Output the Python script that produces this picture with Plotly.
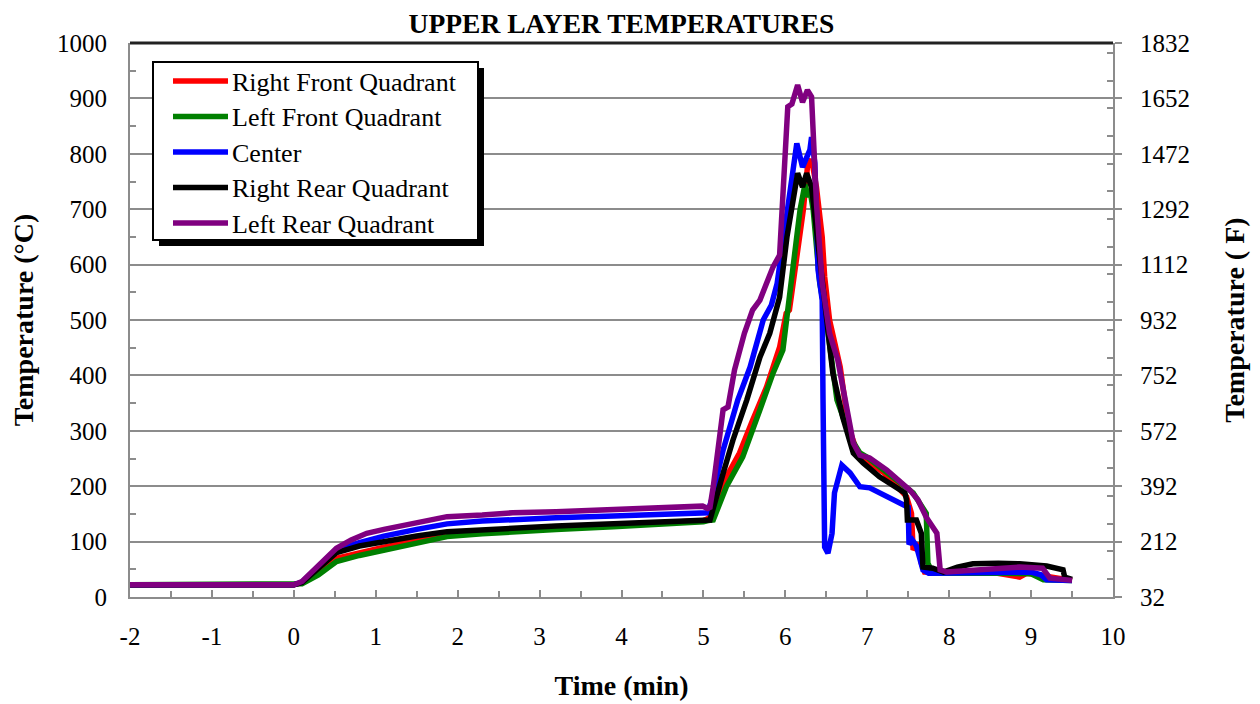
import plotly.graph_objects as go

# ---------------- data ----------------
rf_t = [-2, 0, 0.1, 0.3, 0.52, 0.8, 1.1, 1.5, 1.87, 2.3, 2.67, 3.2, 3.9, 4.5, 5.0, 5.05, 5.12, 5.28, 5.44,
        5.6, 5.77, 5.93, 6.01, 6.05, 6.12, 6.22, 6.27, 6.32, 6.38, 6.45, 6.48, 6.54, 6.67, 6.77, 6.87, 7.0,
        7.2, 7.48, 7.54, 7.56, 7.62, 7.66, 7.7, 8.0, 8.5, 8.86, 8.95, 9.2, 9.5]
rf_T = [22, 22, 26, 45, 70, 80, 90, 102, 112, 118, 122, 126, 129, 133, 138, 141, 151, 217, 260,
        319, 379, 451, 512, 518, 590, 699, 776, 790, 740, 650, 578, 500, 415, 307, 265, 245,
        225, 181, 151, 85, 97, 61, 45, 44, 45, 36, 43, 36, 30]

lf_t = [-2, 0, 0.1, 0.3, 0.52, 0.8, 1.1, 1.5, 1.87, 2.3, 2.67, 3.2, 3.9, 4.5, 5.0, 5.06, 5.12, 5.28, 5.48,
        5.69, 5.85, 5.97, 6.02, 6.1, 6.18, 6.24, 6.28, 6.3, 6.34, 6.42, 6.5, 6.63, 6.79, 6.91, 7.0, 7.15,
        7.35, 7.56, 7.72, 7.74, 7.8, 8.2, 8.6, 9.0, 9.15, 9.5]
lf_T = [22, 22, 24, 40, 64, 75, 85, 98, 109, 114, 118, 122, 127, 131, 136, 138, 139, 199, 253,
        338, 404, 446, 505, 614, 699, 745, 722, 735, 699, 567, 500, 356, 289, 260, 252, 235,
        212, 188, 151, 61, 43, 44, 43, 42, 31, 30]

c_t = [-2, 0, 0.1, 0.3, 0.52, 0.8, 1.1, 1.5, 1.87, 2.3, 2.67, 3.2, 3.9, 4.5, 5.0, 5.05, 5.1, 5.24, 5.42,
       5.57, 5.73, 5.83, 5.9, 6.02, 6.12, 6.14, 6.21, 6.3, 6.32, 6.36, 6.4, 6.45, 6.46, 6.48, 6.52, 6.57,
       6.6, 6.69, 6.79, 6.91, 7.03, 7.24, 7.43, 7.5, 7.51, 7.55, 7.6, 7.68, 7.75, 8.0, 8.5, 9.0, 9.12,
       9.19, 9.5]
c_T = [22, 22, 27, 55, 84, 98, 110, 122, 132, 137, 140, 143, 146, 148, 150, 152, 175, 265, 356,
       415, 500, 527, 566, 699, 812, 819, 776, 807, 830, 783, 590, 536, 356, 90, 79, 115,
       188, 238, 224, 199, 197, 181, 166, 162, 95, 103, 92, 49, 43, 44, 44, 45, 40,
       31, 30]

rr_t = [-2, 0, 0.1, 0.3, 0.52, 0.8, 1.1, 1.5, 1.87, 2.3, 2.67, 3.2, 3.9, 4.5, 5.0, 5.08, 5.24, 5.36, 5.53,
        5.69, 5.81, 5.93, 6.02, 6.1, 6.15, 6.21, 6.26, 6.32, 6.38, 6.45, 6.5, 6.58, 6.7, 6.83, 6.95, 7.15,
        7.46, 7.48, 7.49, 7.6, 7.66, 7.68, 7.8, 7.93, 8.1, 8.29, 8.6, 8.86, 9.19, 9.39, 9.41, 9.5]
rr_T = [22, 22, 26, 52, 80, 92, 100, 110, 118, 122, 125, 128, 132, 136, 140, 139, 223, 283, 356,
        433, 476, 541, 650, 722, 765, 740, 765, 740, 662, 560, 500, 404, 325, 260, 242, 217,
        188, 175, 139, 139, 115, 54, 52, 45, 54, 60, 61, 60, 56, 49, 36, 32]

lr_t = [-2, 0, 0.1, 0.3, 0.52, 0.7, 0.89, 1.1, 1.45, 1.87, 2.3, 2.67, 3.2, 3.9, 4.5, 4.99, 5.05, 5.08,
        5.12, 5.24, 5.3, 5.38, 5.5, 5.6, 5.69, 5.85, 5.93, 5.99, 6.03, 6.08, 6.12, 6.15, 6.21, 6.27,
        6.32, 6.38, 6.45, 6.5, 6.54, 6.64, 6.73, 6.83, 6.91, 7.03, 7.24, 7.52, 7.62, 7.72, 7.85, 7.89,
        7.97, 8.37, 8.86, 9.14, 9.23, 9.5]
lr_T = [22, 22, 28, 58, 88, 103, 115, 122, 133, 145, 148, 152, 154, 157, 160, 164, 160, 162,
        199, 338, 343, 410, 476, 518, 536, 596, 617, 771, 885, 890, 915, 924, 893, 915,
        903, 711, 567, 505, 476, 428, 356, 278, 256, 251, 229, 193, 175, 144, 115, 49,
        45, 48, 54, 52, 34, 30]

series_names = ["Right Front Quadrant", "Left Front Quadrant", "Center",
                "Right Rear Quadrant", "Left Rear Quadrant"]
series_colors = ["#FF0000", "#008000", "#0000FF", "#000000", "#800080"]
series_t = [rf_t, lf_t, c_t, rr_t, lr_t]
series_T = [rf_T, lf_T, c_T, rr_T, lr_T]

x_ticks = list(range(-2, 11))
c_ticks = list(range(0, 1001, 100))
f_ticks = [32 + 1.8 * v for v in c_ticks]

# ---------------- figure ----------------
FONT = "Liberation Serif, Times New Roman, serif"
GRID = "#8c8c8c"
OFF = 8                      # default body margin of the html page
WIN_W, WIN_H = 1260, 704
PL, PR, PT, PB = 130, 1113, 43, 597   # plot area in window pixels
W, H = WIN_W - OFF, WIN_H - OFF
L, T = PL - OFF, PT - OFF
R, B = W - (PR - OFF), H - (PB - OFF)
PW, PH = PR - PL, PB - PT

fig = go.Figure()
for name, col, tt, vv in zip(series_names, series_colors, series_t, series_T):
    fig.add_trace(go.Scatter(x=tt, y=vv, name=name, mode="lines",
                             line=dict(color=col, width=5.5), showlegend=False))
# invisible trace to activate the right (°F) axis
fig.add_trace(go.Scatter(x=[None], y=[None], yaxis="y2", showlegend=False, hoverinfo="skip"))

fig.update_layout(
    width=W, height=H,
    margin=dict(l=L, r=R, t=T, b=B, autoexpand=False),
    paper_bgcolor="white", plot_bgcolor="white",
    font=dict(family=FONT, size=25, color="black"),
    title=dict(text="<b>UPPER LAYER TEMPERATURES</b>", x=(PL - OFF + PW / 2) / W, xanchor="center",
               y=1 - (23 - OFF) / H, yanchor="middle", font=dict(size=27.5, family=FONT)),
    xaxis=dict(range=[-2, 10], tickvals=x_ticks, ticktext=[str(v) for v in x_ticks],
               ticks="inside", ticklen=7, tickwidth=2, tickcolor=GRID, automargin=False,
               minor=dict(dtick=0.5, ticks="inside", ticklen=6, tickwidth=2, tickcolor=GRID),
               showline=True, linecolor=GRID, linewidth=2, showgrid=False, zeroline=False,
               ticklabelstandoff=16,
               title=dict(text="<b>Time (min)</b>", font=dict(size=28, family=FONT), standoff=26)),
    yaxis=dict(range=[0, 1000], tickvals=c_ticks, ticks="inside", ticklen=7, tickwidth=2,
               tickcolor=GRID, automargin=False,
               minor=dict(dtick=50, ticks="inside", ticklen=6, tickwidth=2, tickcolor=GRID),
               showline=True, linecolor=GRID, linewidth=2, showgrid=True, gridcolor=GRID,
               gridwidth=2, zeroline=False, ticklabelstandoff=16,
               title=dict(text="<b>Temperature (°C)</b>", font=dict(size=28, family=FONT), standoff=15)),
    yaxis2=dict(range=[32, 1832], overlaying="y", side="right", tickvals=f_ticks,
                ticktext=[str(int(round(v))) for v in f_ticks], automargin=False,
                ticks="outside", ticklen=7, tickwidth=2, tickcolor=GRID,
                minor=dict(dtick=90, ticks="inside", ticklen=6, tickwidth=2, tickcolor=GRID),
                showline=True, linecolor=GRID, linewidth=2, showgrid=False, zeroline=False,
                ticklabelstandoff=13,
                title=dict(text="<b>Temperature ( F)</b>", font=dict(size=28, family=FONT), standoff=35)),
)

# dark top border
fig.add_shape(type="line", xref="paper", yref="paper", x0=0, x1=1, y0=1, y1=1,
              line=dict(color="#222222", width=3))

# ---- legend box (manual, with drop shadow) ----
def px(xp):
    return (xp - PL) / PW

def py(yp):
    return (PB - yp) / PH

box = (153, 62, 478, 240)
sh = 6
fig.add_shape(type="rect", xref="paper", yref="paper",
              x0=px(box[0] + sh), x1=px(box[2] + sh), y0=py(box[3] + sh), y1=py(box[1] + sh),
              fillcolor="black", line=dict(color="black", width=0), layer="above")
fig.add_shape(type="rect", xref="paper", yref="paper",
              x0=px(box[0]), x1=px(box[2]), y0=py(box[3]), y1=py(box[1]),
              fillcolor="white", line=dict(color="black", width=2), layer="above")
row_y = [81, 116.5, 152, 187.5, 223]
for name, col, ry in zip(series_names, series_colors, row_y):
    fig.add_shape(type="line", xref="paper", yref="paper", x0=px(173), x1=px(228),
                  y0=py(ry), y1=py(ry), line=dict(color=col, width=5.5), layer="above")
    fig.add_annotation(xref="paper", yref="paper", x=px(230), y=py(ry + 1), text=name,
                       showarrow=False, xanchor="left", yanchor="middle",
                       font=dict(size=26, family=FONT, color="black"))

fig.write_html("out.html")
